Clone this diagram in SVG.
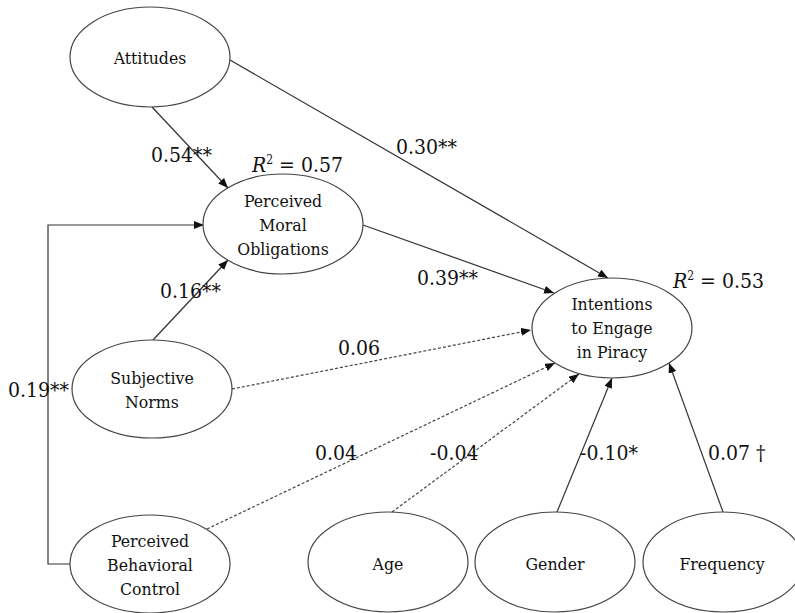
<svg xmlns="http://www.w3.org/2000/svg" width="795" height="613" viewBox="0 0 795 613">
<defs>
<marker id="arr" viewBox="0 0 10 8" refX="10" refY="4" markerWidth="10" markerHeight="8" markerUnits="userSpaceOnUse" orient="auto">
<path d="M0,0 L10,4 L0,8 z" fill="#111"/>
</marker>
<style>
.node ellipse{fill:#fff;stroke:#444;stroke-width:1.2}
.nt{font-family:"DejaVu Serif Condensed","DejaVu Serif",serif;font-stretch:condensed;font-size:17.5px;fill:#111;text-anchor:middle}
.lb{font-family:"DejaVu Serif Condensed","DejaVu Serif",serif;font-stretch:condensed;font-size:21px;fill:#111}
.c{fill:none;stroke:#333;stroke-width:1.2}
.d{fill:none;stroke:#444;stroke-width:1.2;stroke-dasharray:3 2}
</style>
</defs>
<rect width="795" height="613" fill="#fff"/>
<g id="connectors">
<path class="c" d="M152,107 L228,188" marker-end="url(#arr)"/>
<path class="c" d="M230,60 L608,278" marker-end="url(#arr)"/>
<path class="c" d="M363,225 L554,293" marker-end="url(#arr)"/>
<path class="c" d="M153,340 L228,260" marker-end="url(#arr)"/>
<path class="c" d="M70,564 L48,564 L48,225 L204,225" marker-end="url(#arr)"/>
<path class="d" d="M232,389 L531,330" marker-end="url(#arr)"/>
<path class="d" d="M207,529 L555,363" marker-end="url(#arr)"/>
<path class="d" d="M392,512 L579,374" marker-end="url(#arr)"/>
<path class="c" d="M557,512 L612,378" marker-end="url(#arr)"/>
<path class="c" d="M723,512 L669,363" marker-end="url(#arr)"/>
</g>
<g id="attitudes" class="node"><ellipse cx="150" cy="57" rx="80" ry="50"/><text class="nt" x="150" y="64">Attitudes</text></g>
<g id="pmo" class="node"><ellipse cx="283" cy="224" rx="80" ry="50"/><text class="nt" x="283" y="207">Perceived</text><text class="nt" x="283" y="231">Moral</text><text class="nt" x="283" y="255">Obligations</text></g>
<g id="sn" class="node"><ellipse cx="152" cy="389" rx="80" ry="49"/><text class="nt" x="152" y="384">Subjective</text><text class="nt" x="152" y="408">Norms</text></g>
<g id="pbc" class="node"><ellipse cx="150" cy="564" rx="80" ry="49"/><text class="nt" x="150" y="547">Perceived</text><text class="nt" x="150" y="571">Behavioral</text><text class="nt" x="150" y="595">Control</text></g>
<g id="intentions" class="node"><ellipse cx="612" cy="328" rx="80" ry="50"/><text class="nt" x="612" y="310">Intentions</text><text class="nt" x="612" y="334">to Engage</text><text class="nt" x="612" y="358">in Piracy</text></g>
<g id="age" class="node"><ellipse cx="388" cy="562" rx="80" ry="50"/><text class="nt" x="388" y="570">Age</text></g>
<g id="gender" class="node"><ellipse cx="555" cy="562" rx="80" ry="50"/><text class="nt" x="555" y="570">Gender</text></g>
<g id="frequency" class="node"><ellipse cx="723" cy="562" rx="80" ry="50"/><text class="nt" x="722" y="570">Frequency</text></g>
<g id="labels">
<text class="lb" x="151" y="162">0.54**</text>
<text class="lb" x="252" y="172"><tspan font-style="italic">R</tspan><tspan font-size="12" dy="-8">2</tspan><tspan dy="8"> = 0.57</tspan></text>
<text class="lb" x="396" y="154">0.30**</text>
<text class="lb" x="417" y="285">0.39**</text>
<text class="lb" x="673" y="288"><tspan font-style="italic">R</tspan><tspan font-size="12" dy="-8">2</tspan><tspan dy="8"> = 0.53</tspan></text>
<text class="lb" x="160" y="298">0.16**</text>
<text class="lb" x="8" y="397">0.19**</text>
<text class="lb" x="338" y="355">0.06</text>
<text class="lb" x="315" y="460">0.04</text>
<text class="lb" x="430" y="460">-0.04</text>
<text class="lb" x="580" y="460">-0.10*</text>
<text class="lb" x="708" y="460">0.07 †</text>
</g>
</svg>
